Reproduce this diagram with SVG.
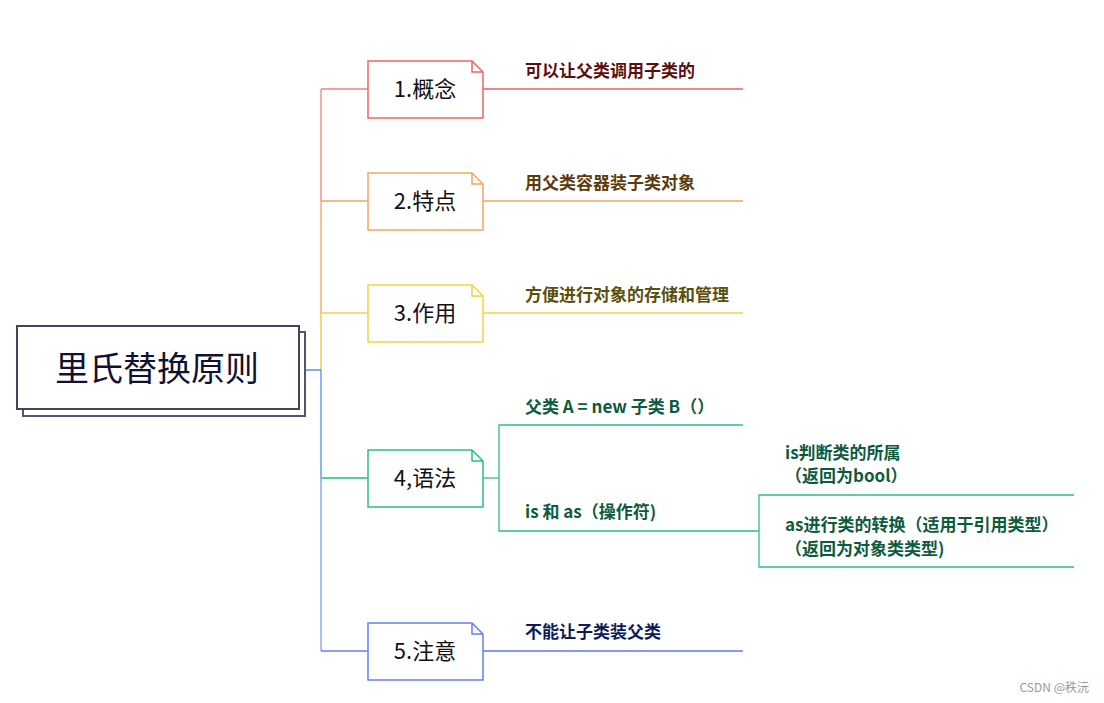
<svg xmlns="http://www.w3.org/2000/svg" width="1104" height="703" viewBox="0 0 1104 703">
<style>
.node{fill:#fff;stroke-width:1.5}
.nt{font-family:"Noto Sans CJK SC","Liberation Sans",sans-serif;font-size:22px;fill:#111;text-anchor:middle}
.lt{font-family:"Noto Sans CJK SC","Liberation Sans",sans-serif;font-size:17px;font-weight:bold}
.ln{fill:none;stroke-width:1.3}
</style>
<rect width="1104" height="703" fill="#fff"/>
<g id="connectors">
<line class="ln" x1="321" y1="89" x2="321" y2="201" stroke="#f47c7c"/>
<line class="ln" x1="321" y1="201" x2="321" y2="313" stroke="#f5a064"/>
<line class="ln" x1="321" y1="313" x2="321" y2="370" stroke="#f5be3a"/>
<line class="ln" x1="321" y1="370" x2="321" y2="478" stroke="#4a8fe0"/>
<line class="ln" x1="321" y1="478" x2="321" y2="651" stroke="#8098f0"/>
<line class="ln" x1="305" y1="370" x2="321" y2="370" stroke="#4a7ae8"/>
<line class="ln" x1="321" y1="89" x2="368" y2="89" stroke="#f47c7c"/>
<line class="ln" x1="321" y1="201" x2="368" y2="201" stroke="#f5a064"/>
<line class="ln" x1="321" y1="313" x2="368" y2="313" stroke="#f5d040"/>
<line class="ln" x1="321" y1="478" x2="368" y2="478" stroke="#1fc080"/>
<line class="ln" x1="321" y1="651" x2="368" y2="651" stroke="#6680ee"/>
<line class="ln" x1="483" y1="89" x2="743" y2="89" stroke="#f25c5c"/>
<line class="ln" x1="483" y1="201" x2="743" y2="201" stroke="#f5a55a"/>
<line class="ln" x1="483" y1="313" x2="743" y2="313" stroke="#f5d040"/>
<line class="ln" x1="483" y1="651" x2="743" y2="651" stroke="#5b78e8"/>
<polyline class="ln" points="483,478 499,478" stroke="#2dbf85"/>
<polyline class="ln" points="743,425 499,425 499,531 759,531" stroke="#2dbf85"/>
<polyline class="ln" points="1074,495 759,495 759,567 1074,567" stroke="#2dbf85"/>
</g>
<g id="root">
<rect x="23" y="332" width="282" height="84" fill="#fff" stroke="#55556e" stroke-width="2"/>
<rect x="17" y="326" width="282" height="83" fill="#fff" stroke="#44445e" stroke-width="2"/>
<text x="157" y="381" font-family="Noto Sans CJK SC,Liberation Sans,sans-serif" font-size="34" fill="#111133" text-anchor="middle">里氏替换原则</text>
</g>
<g id="n1">
<path class="node" d="M368,61H472L483,72V118H368Z M472,61V72H483" stroke="#f06464"/>
<text class="nt" x="425" y="97">1.概念</text>
<text class="lt" x="525" y="77" fill="#5a0e0e">可以让父类调用子类的</text>
</g>
<g id="n2">
<path class="node" d="M368,173H472L483,184V230H368Z M472,173V184H483" stroke="#f5a564"/>
<text class="nt" x="425" y="209">2.特点</text>
<text class="lt" x="525" y="189" fill="#5c3a0e">用父类容器装子类对象</text>
</g>
<g id="n3">
<path class="node" d="M368,285H472L483,296V342H368Z M472,285V296H483" stroke="#f2d340"/>
<text class="nt" x="425" y="321">3.作用</text>
<text class="lt" x="525" y="301" fill="#5a500e">方便进行对象的存储和管理</text>
</g>
<g id="n4">
<path class="node" d="M368,450H472L483,461V507H368Z M472,450V461H483" stroke="#2dbf85"/>
<text class="nt" x="425" y="486">4,语法</text>
<text class="lt" x="525" y="413" fill="#0e5a3c">父类 A = new 子类 B（）</text>
<text class="lt" x="525" y="518" fill="#0e5a3c">is 和 as（操作符)</text>
<text class="lt" x="785" y="459" fill="#0e5a3c">is判断类的所属</text>
<text class="lt" x="785" y="482" fill="#0e5a3c">（返回为bool）</text>
<text class="lt" x="785" y="531" fill="#0e5a3c">as进行类的转换（适用于引用类型）</text>
<text class="lt" x="785" y="555" fill="#0e5a3c">（返回为对象类类型)</text>
</g>
<g id="n5">
<path class="node" d="M368,623H472L483,634V680H368Z M472,623V634H483" stroke="#6680ee"/>
<text class="nt" x="425" y="659">5.注意</text>
<text class="lt" x="525" y="638" fill="#0e1a5a">不能让子类装父类</text>
</g>
<text x="1089" y="692" font-family="Noto Sans CJK SC,Liberation Sans,sans-serif" font-size="12" fill="#999" text-anchor="end">CSDN @秩沅</text>
</svg>
